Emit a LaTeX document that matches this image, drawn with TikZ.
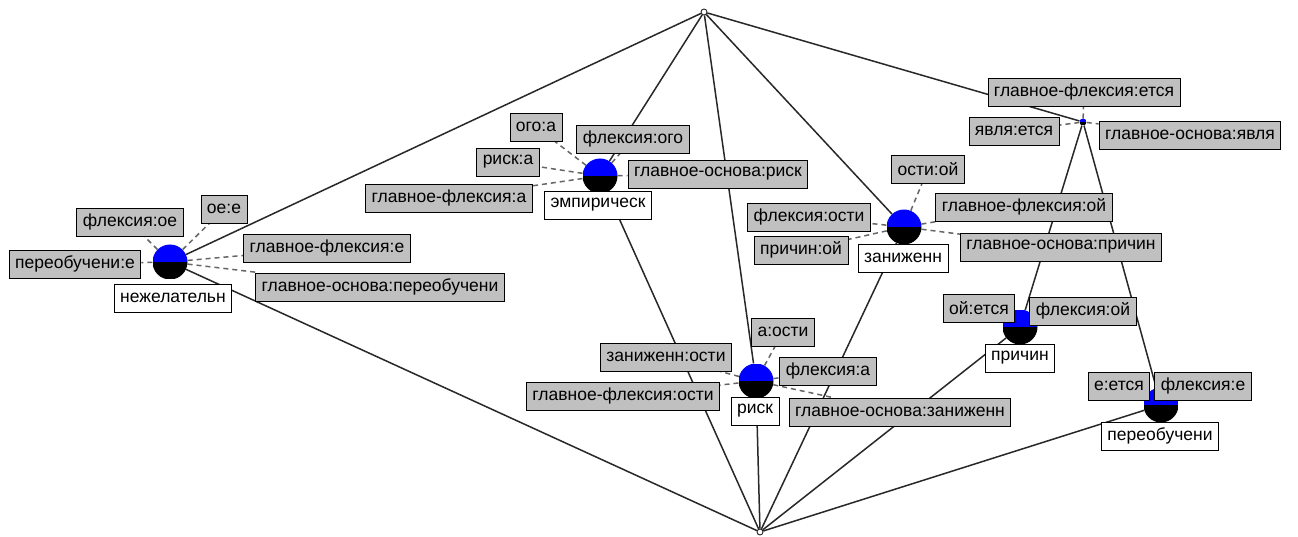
\documentclass[tikz,border=0pt]{standalone}
\usepackage{fontspec}
\setmainfont{Liberation Sans}
\usetikzlibrary{backgrounds}
\definecolor{labgray}{RGB}{192,192,192}
\definecolor{nodeblue}{RGB}{0,0,255}
\definecolor{edgecol}{RGB}{40,40,40}
\tikzset{
  x=1pt, y=-1pt,
  concept/.style={circle, inner sep=0pt, minimum size=35pt,
    path picture={
      \fill[nodeblue] (path picture bounding box.north west) rectangle (path picture bounding box.east);
      \fill[black] (path picture bounding box.west) rectangle (path picture bounding box.south east);}},
  smallconcept/.style={circle, inner sep=0pt, minimum size=7pt,
    path picture={
      \fill[nodeblue] (path picture bounding box.north west) rectangle (path picture bounding box.east);
      \fill[black] (path picture bounding box.west) rectangle (path picture bounding box.south east);}},
  extreme/.style={circle, draw=edgecol, fill=white, inner sep=0pt, minimum size=6pt, line width=0.9pt},
  attrlab/.style={draw=black, fill=labgray, line width=0.9pt, inner xsep=6pt, inner ysep=0pt,
    minimum height=28pt, font=\fontsize{17.5}{18}\selectfont},
  objlab/.style={draw=black, fill=white, line width=0.9pt, inner xsep=6pt, inner ysep=0pt,
    minimum height=28pt, font=\fontsize{17.5}{18}\selectfont},
  edgeline/.style={draw=edgecol, line width=1.5pt},
  linkline/.style={draw=black!60, line width=1.5pt, dash pattern=on 5pt off 4pt}
}
\begin{document}
\begin{tikzpicture}
\useasboundingbox (0,0) rectangle (1298,537);
% concept nodes
\node[extreme] (top) at (704,12) {};
\node[extreme] (bot) at (760,532) {};
\node[concept] (A) at (170,262) {};
\node[concept] (B) at (600,176) {};
\node[concept] (C) at (904,227) {};
\node[concept] (D) at (756,381) {};
\node[smallconcept] (E) at (1083,122) {};
\node[concept] (F) at (1020,327) {};
\node[concept] (G) at (1161,405) {};
% labels of A
\node[attrlab] (a1) at (130,222) {флексия:ое};
\node[attrlab] (a2) at (224,209) {ое:е};
\node[attrlab] (a3) at (75,264) {переобучени:е};
\node[attrlab] (a4) at (327,248) {главное-флексия:е};
\node[attrlab] (a5) at (380,287) {главное-основа:переобучени};
\node[objlab] (ao) at (173,298) {нежелательн};
% labels of B
\node[attrlab] (b1) at (536,127) {ого:а};
\node[attrlab] (b2) at (633,139) {флексия:ого};
\node[attrlab] (b3) at (508,162) {риск:а};
\node[attrlab] (b4) at (718,174) {главное-основа:риск};
\node[attrlab] (b5) at (449,198) {главное-флексия:а};
\node[objlab] (bo) at (598,205) {эмпирическ};
% labels of C
\node[attrlab] (c1) at (928,169) {ости:ой};
\node[attrlab] (c2) at (809,217) {флексия:ости};
\node[attrlab] (c3) at (1024,207) {главное-флексия:ой};
\node[attrlab] (c4) at (801,250) {причин:ой};
\node[attrlab] (c5) at (1061,247) {главное-основа:причин};
\node[objlab] (co) at (903,258) {заниженн};
% labels of E
\node[attrlab] (e1) at (1084,92) {главное-флексия:ется};
\node[attrlab] (e2) at (1014,131) {явля:ется};
\node[attrlab] (e3) at (1190,135) {главное-основа:явля};
% labels of D
\node[attrlab] (d1) at (783,332) {а:ости};
\node[attrlab] (d2) at (666,357) {заниженн:ости};
\node[attrlab] (d3) at (828,371) {флексия:а};
\node[attrlab] (d4) at (623,396) {главное-флексия:ости};
\node[attrlab] (d5) at (900,412) {главное-основа:заниженн};
\node[objlab] (do) at (755,411) {риск};
% labels of F
\node[attrlab] (f1) at (979,308) {ой:ется};
\node[attrlab] (f2) at (1083,311) {флексия:ой};
\node[objlab] (fo) at (1020,358) {причин};
% labels of G
\node[attrlab] (g1) at (1119,386) {е:ется};
\node[attrlab] (g2) at (1203,386) {флексия:е};
\node[objlab] (go) at (1160,436) {переобучени};
\begin{scope}[on background layer]
  \fill[white] (0,0) rectangle (1298,537);
  % lattice edges
  \draw[edgeline] (top) -- (A);
  \draw[edgeline] (top) -- (B);
  \draw[edgeline] (top) -- (D);
  \draw[edgeline] (top) -- (C);
  \draw[edgeline] (top) -- (E);
  \draw[edgeline] (E) -- (F);
  \draw[edgeline] (E) -- (G);
  \draw[edgeline] (A) -- (bot);
  \draw[edgeline] (B) -- (bot);
  \draw[edgeline] (D) -- (bot);
  \draw[edgeline] (C) -- (bot);
  \draw[edgeline] (F) -- (bot);
  \draw[edgeline] (G) -- (bot);
  % label links
  \foreach \n in {a1,a2,a3,a4,a5} \draw[linkline] (A) -- (\n);
  \foreach \n in {b1,b2,b3,b4,b5} \draw[linkline] (B) -- (\n);
  \foreach \n in {c1,c2,c3,c4,c5} \draw[linkline] (C) -- (\n);
  \foreach \n in {d1,d2,d3,d4,d5} \draw[linkline] (D) -- (\n);
  \foreach \n in {e1,e2,e3} \draw[linkline] (E) -- (\n);
  \foreach \n in {f1,f2} \draw[linkline] (F) -- (\n);
  \foreach \n in {g1,g2} \draw[linkline] (G) -- (\n);
\end{scope}
\end{tikzpicture}
\end{document}
